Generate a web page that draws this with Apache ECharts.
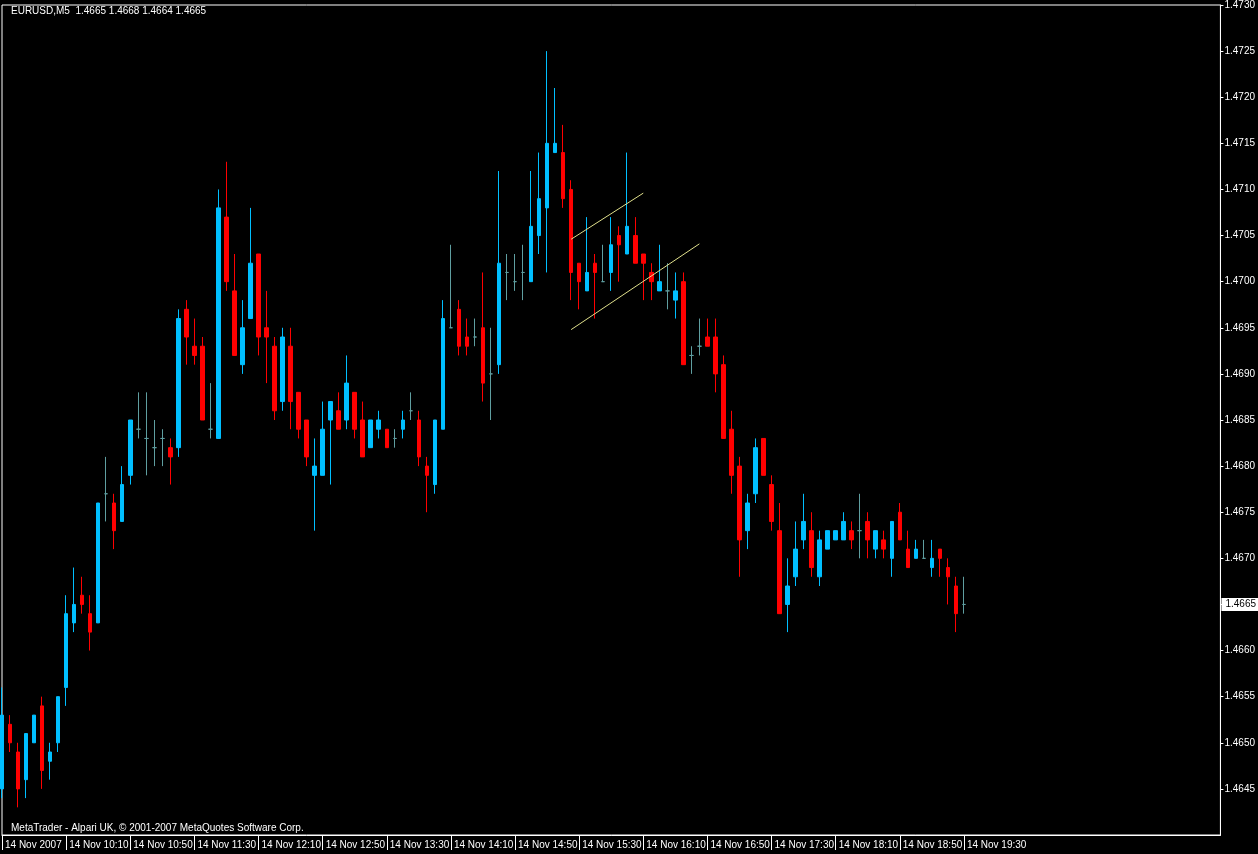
<!DOCTYPE html>
<html>
<head>
<meta charset="utf-8">
<title>EURUSD,M5</title>
<script src="https://cdn.jsdelivr.net/npm/echarts@6/dist/echarts.min.js"></script>
<style>
  html, body { margin: 0; padding: 0; background: #000; }
  #chart { width: 1258px; height: 854px; }
</style>
</head>
<body>
<div id="chart"></div>
<script>
// 5-minute bars, 14 Nov 2007, 09:30 .. 19:30 (121 bars)
let opens = [
    1.4645,1.4652,1.4649,1.4646,1.4650,1.4654,1.4648,1.4650,1.4656,1.4663,
    1.4666,1.4664,1.4663,1.4677,1.4676,1.4674,1.4679,1.4684,1.4683,1.4682,
    1.4683,1.4682,1.4682,1.4697,1.4693,1.4693,1.4684,1.4683,1.4707,1.4699,
    1.4691,1.4696,1.4703,1.4695,1.4693,1.4687,1.4693,1.4688,1.4685,1.4679,
    1.4679,1.4685,1.4686,1.4685,1.4688,1.4685,1.4682,1.4684,1.4684,1.4683,
    1.4684,1.4686,1.4685,1.4680,1.4678,1.4684,1.4695,1.4697,1.4694,1.4694,
    1.4695,1.4690,1.4691,1.4701,1.4700,1.4701,1.4700,1.4705,1.4708,1.4714,
    1.4714,1.4710,1.4702,1.4699,1.4702,1.4700,1.4701,1.4705,1.4703,1.4705,
    1.4703,1.4701,1.4699,1.4699,1.4698,1.4700,1.4692,1.4693,1.4694,1.4694,
    1.4691,1.4684,1.4680,1.4673,1.4677,1.4683,1.4678,1.4673,1.4665,1.4668,
    1.4672,1.4673,1.4668,1.4671,1.4672,1.4672,1.4673,1.4673,1.4674,1.4671,
    1.4672,1.4670,1.4675,1.4671,1.4670,1.4670,1.4669,1.4671,1.4669,1.4667,
    1.4665
];
let highs = [
    1.4656,1.4653,1.4650,1.4651,1.4653,1.4655,1.4650,1.4655,1.4666,1.4669,
    1.4668,1.4666,1.4676,1.4681,1.4677,1.4680,1.4685,1.4688,1.4688,1.4685,
    1.4684,1.4683,1.4697,1.4698,1.4696,1.4694,1.4689,1.4710,1.4713,1.4703,
    1.4698,1.4708,1.4703,1.4699,1.4694,1.4695,1.4695,1.4688,1.4685,1.4683,
    1.4687,1.4687,1.4688,1.4692,1.4688,1.4687,1.4685,1.4686,1.4684,1.4684,
    1.4686,1.4688,1.4686,1.4681,1.4685,1.4698,1.4704,1.4698,1.4696,1.4696,
    1.4701,1.4695,1.4712,1.4703,1.4703,1.4704,1.4712,1.4714,1.4725,1.4721,
    1.4717,1.4711,1.4702,1.4707,1.4703,1.4704,1.4707,1.4706,1.4714,1.4707,
    1.4703,1.4702,1.4704,1.4702,1.4701,1.4701,1.4693,1.4696,1.4696,1.4696,
    1.4692,1.4686,1.4681,1.4677,1.4683,1.4683,1.4679,1.4676,1.4670,1.4674,
    1.4677,1.4675,1.4673,1.4673,1.4673,1.4675,1.4674,1.4677,1.4675,1.4673,
    1.4673,1.4674,1.4676,1.4673,1.4672,1.4672,1.4672,1.4671,1.4670,1.4668,
    1.4668
];
let lows = [
    1.4644,1.4649,1.4643,1.4644,1.4650,1.4645,1.4646,1.4649,1.4654,1.4662,
    1.4664,1.4660,1.4663,1.4674,1.4671,1.4674,1.4678,1.4683,1.4679,1.4680,
    1.4680,1.4678,1.4681,1.4691,1.4691,1.4685,1.4683,1.4683,1.4699,1.4692,
    1.4690,1.4696,1.4692,1.4689,1.4685,1.4686,1.4684,1.4683,1.4680,1.4673,
    1.4679,1.4678,1.4684,1.4684,1.4683,1.4681,1.4682,1.4683,1.4682,1.4682,
    1.4683,1.4685,1.4680,1.4675,1.4677,1.4684,1.4695,1.4692,1.4692,1.4693,
    1.4687,1.4685,1.4690,1.4698,1.4699,1.4698,1.4700,1.4703,1.4701,1.4714,
    1.4708,1.4698,1.4697,1.4699,1.4696,1.4700,1.4699,1.4700,1.4703,1.4702,
    1.4698,1.4698,1.4699,1.4697,1.4696,1.4691,1.4690,1.4692,1.4693,1.4688,
    1.4683,1.4677,1.4668,1.4671,1.4676,1.4679,1.4673,1.4664,1.4662,1.4667,
    1.4671,1.4668,1.4667,1.4671,1.4672,1.4672,1.4671,1.4670,1.4670,1.4670,
    1.4670,1.4668,1.4672,1.4669,1.4670,1.4670,1.4668,1.4668,1.4665,1.4662,
    1.4664
];
let closes = [
    1.4653,1.4650,1.4645,1.4651,1.4653,1.4647,1.4649,1.4655,1.4664,1.4665,
    1.4665,1.4662,1.4676,1.4677,1.4673,1.4678,1.4685,1.4684,1.4683,1.4682,
    1.4683,1.4681,1.4696,1.4694,1.4692,1.4685,1.4684,1.4708,1.4700,1.4692,
    1.4695,1.4702,1.4694,1.4694,1.4686,1.4694,1.4687,1.4684,1.4681,1.4680,
    1.4684,1.4687,1.4684,1.4689,1.4684,1.4681,1.4685,1.4685,1.4682,1.4683,
    1.4685,1.4686,1.4681,1.4679,1.4685,1.4696,1.4695,1.4693,1.4693,1.4694,
    1.4689,1.4690,1.4702,1.4701,1.4700,1.4701,1.4706,1.4709,1.4715,1.4715,
    1.4709,1.4701,1.4700,1.4701,1.4701,1.4700,1.4704,1.4704,1.4706,1.4702,
    1.4702,1.4700,1.4700,1.4699,1.4699,1.4691,1.4692,1.4693,1.4693,1.4690,
    1.4683,1.4679,1.4672,1.4676,1.4682,1.4679,1.4674,1.4664,1.4667,1.4671,
    1.4674,1.4669,1.4672,1.4673,1.4673,1.4674,1.4672,1.4673,1.4672,1.4673,
    1.4671,1.4674,1.4672,1.4669,1.4671,1.4670,1.4670,1.4670,1.4668,1.4664,
    1.4665
];

// hand drawn trend lines: [bar index, price] pairs
let trendLines = [
    [[71, 1.47046], [80, 1.47096]],
    [[71, 1.46948], [87, 1.47041]]
];

let lastPrice = 1.4665;

// time slots: 09:30 every 5 min, incl. empty space to the right of the last bar
let categories = [];
for (let i = 0; i < 153; i++) {
    let m = 9 * 60 + 30 + i * 5;
    let hh = String(Math.floor(m / 60) % 24).padStart(2, '0');
    let mm = String(m % 60).padStart(2, '0');
    categories.push('14 Nov ' + hh + ':' + mm);
}

let ohlc = opens.map((o, i) => [o, closes[i], lows[i], highs[i]]);

let showLabel = (i) => i % 8 === 0 && i < opens.length;

let chart = echarts.init(document.getElementById('chart'));

let font = 'Liberation Sans, Arial, sans-serif';

let option = {
    animation: false,
    backgroundColor: '#000',
    title: [
        {
            text: 'EURUSD,M5  1.4665 1.4668 1.4664 1.4665',
            left: 6,
            top: 1,
            textStyle: { color: '#fff', fontSize: 10, fontWeight: 'normal', fontFamily: font }
        },
        {
            text: 'MetaTrader - Alpari UK, \u00a9 2001-2007 MetaQuotes Software Corp.',
            left: 6,
            top: 818,
            textStyle: { color: '#fff', fontSize: 10, fontWeight: 'normal', fontFamily: font }
        }
    ],
    grid: {
        left: 2,
        right: 37,
        top: 3,
        bottom: 19,
        show: true,
        borderColor: '#fff',
        borderWidth: 1,
        backgroundColor: '#000'
    },
    xAxis: {
        type: 'category',
        data: categories,
        boundaryGap: false,
        axisLine: { show: true, lineStyle: { color: '#fff' } },
        axisTick: { show: true, interval: showLabel, length: 15, lineStyle: { color: '#fff' } },
        axisLabel: {
            interval: showLabel,
            color: '#fff',
            fontSize: 10,
            fontFamily: font,
            align: 'left',
            margin: 5,
            padding: [0, 0, 0, 3],
            formatter: (v, i) => i === 0 ? '14 Nov 2007' : v
        },
        splitLine: { show: false }
    },
    yAxis: {
        type: 'value',
        position: 'right',
        min: 1.4640,
        max: 1.4730,
        interval: 0.0005,
        axisLine: { show: true, lineStyle: { color: '#fff' } },
        axisTick: { show: true, length: 3, lineStyle: { color: '#fff' } },
        axisLabel: {
            color: '#fff',
            fontSize: 10,
            fontFamily: font,
            margin: 4,
            showMinLabel: false,
            formatter: (v) => v.toFixed(4)
        },
        splitLine: { show: false }
    },
    series: [
        {
            name: 'EURUSD',
            type: 'candlestick',
            data: ohlc,
            barWidth: 4,
            itemStyle: {
                color: '#00bfff',
                color0: '#ff0000',
                borderColor: '#00bfff',
                borderColor0: '#ff0000',
                borderColorDoji: '#5f9ea0',
                borderWidth: 1
            },
            markLine: {
                silent: true,
                symbol: 'none',
                data: [
                    ...trendLines.map(l => [
                        { coord: l[0], lineStyle: { color: '#e0e08c', width: 1, type: 'solid' }, label: { show: false } },
                        { coord: l[1] }
                    ]),
                    [
                        // current bid label on the price scale
                        {
                            coord: [0, lastPrice],
                            lineStyle: { color: 'rgba(0,0,0,0)', width: 1 },
                            label: {
                                show: true,
                                position: 'end',
                                distance: 1,
                                formatter: lastPrice.toFixed(4),
                                color: '#000',
                                backgroundColor: '#fff',
                                fontSize: 10,
                                fontFamily: font,
                                padding: [2, 5, 1, 4]
                            }
                        },
                        { coord: [categories.length - 1, lastPrice] }
                    ]
                ]
            }
        }
    ]
};

chart.setOption(option);
</script>
</body>
</html>
